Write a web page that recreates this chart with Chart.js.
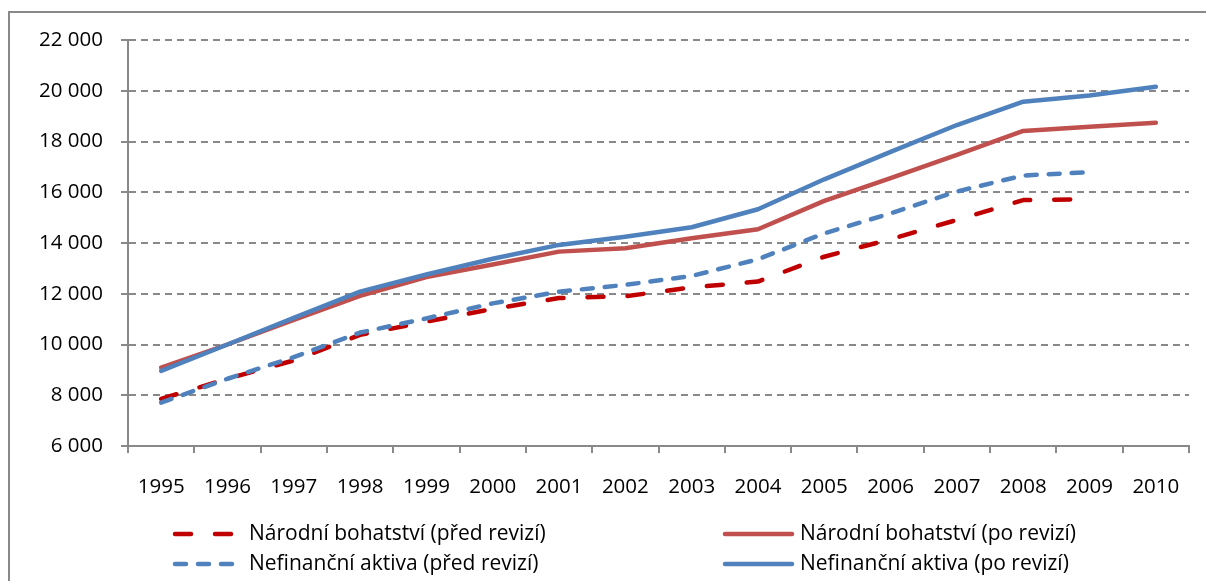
<!DOCTYPE html>
<html>
<head>
<meta charset="utf-8">
<script src="https://cdn.jsdelivr.net/npm/chart.js@4.4.1/dist/chart.umd.min.js"></script>
<style>
  html, body { margin: 0; padding: 0; background: #fff; }
  canvas { display: block; }
</style>
</head>
<body>
<canvas id="wealthChart" width="1206" height="581"></canvas>
<script>
const years = ['1995', '1996', '1997', '1998', '1999', '2000', '2001', '2002',
               '2003', '2004', '2005', '2006', '2007', '2008', '2009', '2010'];

// mld. Kč
const narodniPred = [7855, 8650, 9370, 10380, 10900, 11400, 11830, 11900,
                     12250, 12480, 13460, 14150, 14910, 15690, 15730, null];
const narodniPo = [9090, 10000, 10970, 11915, 12660, 13150, 13660, 13790,
                   14190, 14540, 15660, 16560, 17470, 18415, 18585, 18740];
const nefinPred = [7710, 8650, 9500, 10470, 11030, 11620, 12080, 12350,
                   12700, 13360, 14380, 15170, 16030, 16660, 16790, null];
const nefinPo = [8960, 10000, 11050, 12085, 12760, 13380, 13925, 14250,
                 14620, 15330, 16510, 17590, 18650, 19570, 19810, 20160];

const seriesNames = ['Národní bohatství (před revizí)', 'Národní bohatství (po revizí)',
                     'Nefinanční aktiva (před revizí)', 'Nefinanční aktiva (po revizí)'];

const yMin = 6000;
const yMax = 22000;
const yStep = 2000;

const grey = '#898989';
const red = '#C00000';
const redSoft = '#C0504D';
const blue = '#4F81BD';
const fontFamily = "'Open Sans', sans-serif";

function formatThousands(v) {
    return String(v).replace(/\B(?=(\d{3})+(?!\d))/g, ' ');
}

const frame = {
    id: 'frame',
    beforeDraw(chart) {
        const c = chart.ctx;
        c.save();
        c.fillStyle = '#fff';
        c.fillRect(0, 0, chart.width, chart.height);
        c.strokeStyle = grey;
        c.lineWidth = 2;
        c.strokeRect(9, 12, chart.width + 20, chart.height + 20);
        c.restore();
    }
};

// legend in two columns, like the original
const twoColumnLegend = {
    id: 'twoColumnLegend',
    afterDraw(chart) {
        const c = chart.ctx;
        const slots = [
            {ds: 3, x: 175, w: 60, tx: 249, y: 534},
            {ds: 2, x: 725, w: 67, tx: 800, y: 534},
            {ds: 1, x: 175, w: 60, tx: 249, y: 564},
            {ds: 0, x: 725, w: 67, tx: 800, y: 564}
        ];
        c.save();
        slots.forEach(s => {
            const ds = chart.data.datasets[s.ds];
            c.strokeStyle = ds.borderColor;
            c.lineWidth = ds.borderWidth;
            c.lineCap = 'round';
            c.setLineDash(ds.borderDash || []);
            c.beginPath();
            c.moveTo(s.x, s.y);
            c.lineTo(s.x + s.w, s.y);
            c.stroke();

            c.setLineDash([]);
            c.fillStyle = '#000';
            c.font = '21px ' + fontFamily;
            c.textBaseline = 'middle';
            c.fillText(ds.label, s.tx, s.y);
        });
        c.restore();
    }
};

function lineSet(label, data, color, dash) {
    return {
        label: label,
        data: data,
        borderColor: color,
        backgroundColor: color,
        borderWidth: 4.5,
        borderDash: dash,
        borderCapStyle: 'round',
        borderJoinStyle: 'round',
        pointRadius: 0,
        tension: 0,
        spanGaps: false
    };
}

new Chart(document.getElementById('wealthChart'), {
    type: 'line',
    data: {
        labels: years,
        // blue series first so they sit on top
        datasets: [
            lineSet(seriesNames[3], nefinPo, blue, []),
            lineSet(seriesNames[2], nefinPred, blue, [11, 12]),
            lineSet(seriesNames[1], narodniPo, redSoft, []),
            lineSet(seriesNames[0], narodniPred, red, [16, 24])
        ]
    },
    options: {
        responsive: false,
        animation: false,
        devicePixelRatio: 1,
        layout: {padding: {left: 0, right: 17, top: 40, bottom: 0}},
        plugins: {
            legend: {display: false},
            title: {display: false},
            tooltip: {enabled: false}
        },
        scales: {
            x: {
                offset: true,
                grid: {drawOnChartArea: false, offset: true, tickLength: 7, color: grey, lineWidth: 2},
                border: {display: true, color: grey, width: 2},
                ticks: {color: '#000', padding: 22, maxRotation: 0, autoSkip: false,
                        font: {family: fontFamily, size: 20.5}},
                afterFit(scale) { scale.height = 135; }
            },
            y: {
                min: yMin,
                max: yMax,
                grid: {color: grey, lineWidth: 2, tickLength: 7, tickBorderDash: []},
                border: {display: true, color: grey, width: 2, dash: [7, 5]},
                ticks: {stepSize: yStep, color: '#000', padding: 18,
                        font: {family: fontFamily, size: 20.5},
                        callback: v => formatThousands(v)},
                afterFit(scale) { scale.width = 128; }
            }
        }
    },
    plugins: [frame, twoColumnLegend]
});
</script>
</body>
</html>
